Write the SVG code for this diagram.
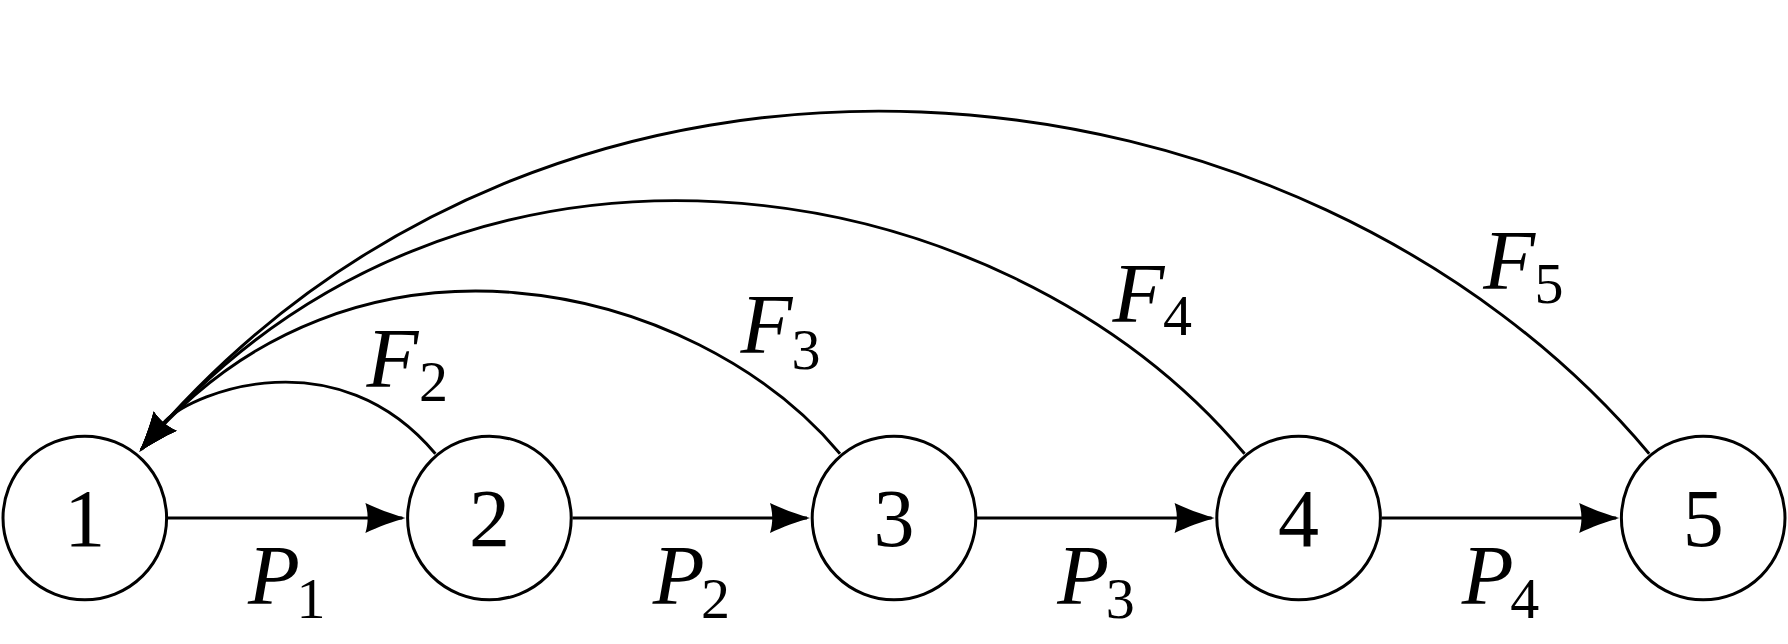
<svg xmlns="http://www.w3.org/2000/svg" width="1788" height="644" viewBox="0 0 1788 644">
<style>
.node circle{fill:#fff;stroke:#000;stroke-width:3}
.num{font-family:"Liberation Serif",serif;font-size:82px;text-anchor:middle;fill:#000}
.lbl{font-family:"Liberation Serif",serif;font-style:italic;font-size:85px;text-anchor:middle;fill:#000}
.sub{font-family:"Liberation Serif",serif;font-size:58px;text-anchor:middle;fill:#000}
.edge{fill:none;stroke:#000;stroke-width:2.9;marker-end:url(#arr)}
</style>
<defs>
<marker id="arr" markerUnits="userSpaceOnUse" viewBox="0 -16 42 32" markerWidth="42" markerHeight="32" refX="37" refY="0" orient="auto" overflow="visible">
<path d="M40,0 C28,3.4 12,9.2 0,15 C3,5 3,-5 0,-15 C12,-9.2 28,-3.4 40,0 Z" fill="#000"/>
</marker>
</defs>
<rect width="1788" height="644" fill="#fff"/>
<g id="connectors">
<path class="edge" d="M167.8,518 H402.4"/>
<path class="edge" d="M572.4,518 H807"/>
<path class="edge" d="M977,518 H1211.6"/>
<path class="edge" d="M1381.6,518 H1616.2"/>
<path class="edge" d="M435.4,453.7 C337.9,337.5 195.5,390.5 165.2,421.1 L141.4,449.4"/>
<path class="edge" d="M840,453.7 C694.7,280.6 351.7,198.9 141.4,449.4"/>
<path class="edge" d="M1244.6,453.7 C1000.1,162.5 456,74.7 141.4,449.4"/>
<path class="edge" d="M1649.2,453.7 C1303.6,42 555.9,-44.4 141.4,449.4"/>
</g>
<g id="edge-labels">
<text class="lbl" x="274" y="603.5">P</text><text class="sub" x="311" y="618">1</text>
<text class="lbl" x="678.6" y="603.5">P</text><text class="sub" x="715.6" y="618">2</text>
<text class="lbl" x="1083.2" y="603.5">P</text><text class="sub" x="1120.2" y="618">3</text>
<text class="lbl" x="1487.8" y="603.5">P</text><text class="sub" x="1524.8" y="618">4</text>
<text class="lbl" x="392.5" y="387">F</text><text class="sub" x="433.5" y="400.5">2</text>
<text class="lbl" x="766.5" y="353">F</text><text class="sub" x="806" y="368.5">3</text>
<text class="lbl" x="1138.5" y="322">F</text><text class="sub" x="1177.5" y="334.5">4</text>
<text class="lbl" x="1509.2" y="289">F</text><text class="sub" x="1549" y="302.5">5</text>
</g>
<g id="node1" class="node"><circle cx="84.8" cy="518" r="81.8"/><text class="num" x="84.8" y="546">1</text></g>
<g id="node2" class="node"><circle cx="489.4" cy="518" r="81.8"/><text class="num" x="489.4" y="546">2</text></g>
<g id="node3" class="node"><circle cx="894" cy="518" r="81.8"/><text class="num" x="894" y="546">3</text></g>
<g id="node4" class="node"><circle cx="1298.6" cy="518" r="81.8"/><text class="num" x="1298.6" y="546">4</text></g>
<g id="node5" class="node"><circle cx="1703.2" cy="518" r="81.8"/><text class="num" x="1703.2" y="546">5</text></g>
</svg>
